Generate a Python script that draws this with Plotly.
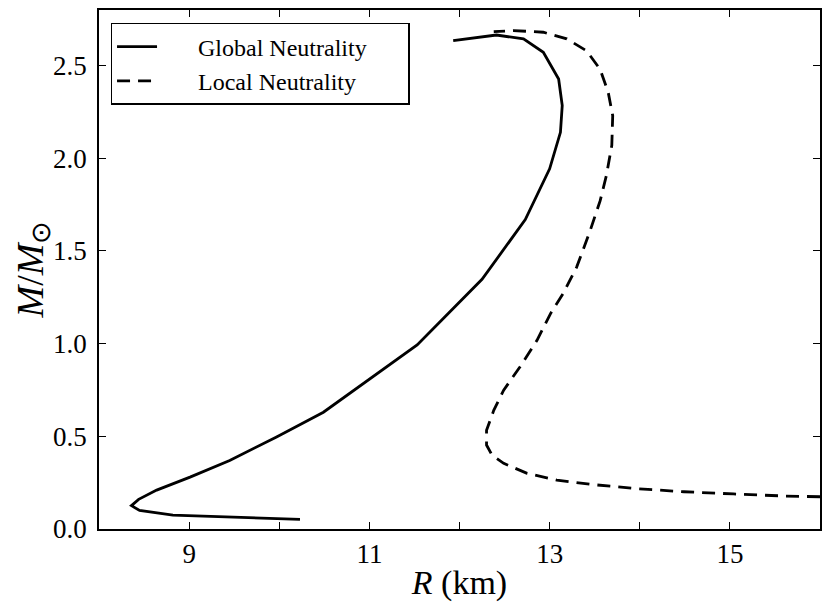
import plotly.graph_objects as go

# Global neutrality (solid) mass-radius curve
R_global = [10.23, 9.50, 8.82, 8.45, 8.36, 8.44, 8.64, 9.01, 9.45, 9.97, 10.49,
            11.53, 12.25, 12.73, 13.00, 13.12, 13.14, 13.10, 12.93, 12.71, 12.41, 11.93]
M_global = [0.052, 0.062, 0.075, 0.100, 0.126, 0.160, 0.210, 0.280, 0.370, 0.497, 0.630,
            0.993, 1.347, 1.669, 1.943, 2.140, 2.285, 2.428, 2.572, 2.644, 2.665, 2.635]

# Local neutrality (dashed) mass-radius curve
R_local = [16.00, 15.60, 15.04, 14.49, 13.93, 13.45, 13.08, 12.75, 12.49, 12.36, 12.30,
           12.30, 12.38, 12.49, 12.67, 12.86, 13.01, 13.15, 13.30, 13.45, 13.56, 13.63,
           13.69, 13.70, 13.65, 13.56, 13.41, 13.19, 12.93, 12.60, 12.38]
M_local = [0.174, 0.178, 0.189, 0.201, 0.219, 0.241, 0.264, 0.300, 0.354, 0.399, 0.453,
           0.533, 0.640, 0.749, 0.874, 1.018, 1.162, 1.270, 1.413, 1.610, 1.770, 1.907,
           2.070, 2.230, 2.356, 2.480, 2.580, 2.644, 2.680, 2.689, 2.683]

x_tick_vals = [9, 11, 13, 15]
x_tick_text = ["9", "11", "13", "15"]
x_minor_vals = [8, 9, 10, 11, 12, 13, 14, 15, 16]
y_tick_vals = [0.0, 0.5, 1.0, 1.5, 2.0, 2.5]
y_tick_text = ["0.0", "0.5", "1.0", "1.5", "2.0", "2.5"]

SERIF = "Liberation Serif, Times New Roman, serif"

fig = go.Figure()
fig.add_trace(go.Scatter(x=R_global, y=M_global, mode="lines",
                         name="\u2003\u2002Global Neutrality\u2003\u2002",
                         line=dict(color="black", width=2.8)))
fig.add_trace(go.Scatter(x=R_local, y=M_local, mode="lines",
                         name="\u2003\u2002Local Neutrality",
                         line=dict(color="black", width=2.8, dash="13px,8px")))

axis_common = dict(showline=True, linecolor="black", linewidth=1.6, mirror="ticks",
                   ticks="inside", ticklen=7, tickwidth=1.2, tickcolor="black",
                   showgrid=False, zeroline=False, automargin=False,
                   tickfont=dict(family=SERIF, size=27, color="black"))

fig.update_xaxes(range=[8, 16], tickmode="array", tickvals=x_tick_vals, ticktext=x_tick_text,
                 ticklabelstandoff=0,
                 minor=dict(ticks="inside", ticklen=7, tickwidth=1.2, tickcolor="black",
                            tickvals=x_minor_vals, showgrid=False),
                 title=dict(text="<i>R</i> (km)", font=dict(family=SERIF, size=34, color="black"),
                            standoff=2),
                 **axis_common)
fig.update_yaxes(range=[0, 2.8], tickmode="array", tickvals=y_tick_vals, ticktext=y_tick_text,
                 ticklabelstandoff=5,
                 **axis_common)

# y-axis title placed as a rotated annotation left of the tick labels
fig.add_annotation(text="<i>M</i>/<i>M</i><sub>\u2299</sub>", textangle=-90,
                   xref="paper", yref="paper", x=0, y=0.5, xanchor="center", yanchor="middle",
                   xshift=-67, showarrow=False, borderpad=0,
                   font=dict(family=SERIF, size=38, color="black"))

# page body has an 8px default margin, so the figure is sized/offset to compensate
fig.update_layout(
    width=822, height=601,
    margin=dict(l=91, r=10, t=2, b=80),
    plot_bgcolor="white", paper_bgcolor="white",
    showlegend=True,
    legend=dict(x=0.016, y=0.975, xanchor="left", yanchor="top",
                bgcolor="white", bordercolor="black", borderwidth=1.5,
                font=dict(family=SERIF, size=24, color="black"),
                tracegroupgap=0, itemwidth=40),
)

fig.write_html("out.html")
